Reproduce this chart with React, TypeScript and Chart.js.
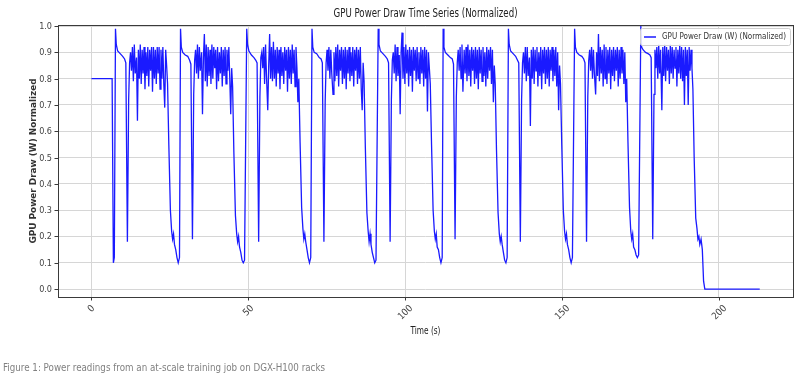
import React, { useEffect, useRef } from "react";
import { Chart, registerables } from "chart.js";

Chart.register(...registerables);

const TITLE = "GPU Power Draw Time Series (Normalized)";
const X_TITLE = "Time (s)";
const Y_TITLE = "GPU Power Draw (W) Normalized";
const SERIES_LABEL = "GPU Power Draw (W) (Normalized)";
const CAPTION = "Figure 1: Power readings from an at-scale training job on DGX-H100 racks";

const xTicks = [0, 50, 100, 150, 200];
const xTickLabels = ["0", "50", "100", "150", "200"];
const yTicks = [0, 0.1, 0.2, 0.3, 0.4, 0.5, 0.6, 0.7, 0.8, 0.9, 1.0];
const yTickLabels = ["0.0", "0.1", "0.2", "0.3", "0.4", "0.5", "0.6", "0.7", "0.8", "0.9", "1.0"];

// idle lead-in before the first training step
const leadInTimes = [0, 6.6, 7.0, 7.3];
const leadInValues = [0.8, 0.8, 0.1, 0.12];

// time (s) at which each burst starts (spike)
const cycleStarts = [7.67, 28.4, 49.5, 70.3, 91.4, 112.1, 132.9, 154.0, 175.1];

// sample instants within a burst, seconds after its start
const cycleOffsets = [
  0, 0.25, 0.7, 1.5, 2.3, 2.9, 3.3, 3.8, 4.2, 4.5,
  4.8, 5.1, 5.4, 5.7, 6.0, 6.3, 6.7, 7.0, 7.3, 7.6,
  7.9, 8.2, 8.5, 8.8, 9.1, 9.4, 9.7, 10.0, 10.3, 10.6,
  10.9, 11.2, 11.5, 11.8, 12.1, 12.4, 12.7, 13.0, 13.3, 13.6,
  13.9, 14.2, 14.5, 14.8, 15.1, 15.4, 15.7, 16.0, 16.3, 16.6,
  17.0, 17.5, 17.9, 18.2, 18.5, 18.8, 19.2, 19.6, 20.0, 20.4,
];

const cycle1 = [
  0.99, 0.93, 0.905, 0.895, 0.885, 0.875, 0.86, 0.18, 0.72, 0.86,
  0.90, 0.83, 0.92, 0.79, 0.93, 0.82, 0.88, 0.64, 0.91, 0.80,
  0.93, 0.78, 0.91, 0.82, 0.92, 0.76, 0.90, 0.81, 0.92, 0.77,
  0.91, 0.83, 0.92, 0.75, 0.92, 0.80, 0.91, 0.78, 0.92, 0.82,
  0.92, 0.76, 0.91, 0.80, 0.92, 0.78, 0.69, 0.91, 0.85, 0.78,
  0.55, 0.30, 0.22, 0.19, 0.21, 0.17, 0.15, 0.12, 0.10, 0.12,
];
const cycle2 = [
  0.99, 0.92, 0.90, 0.89, 0.885, 0.87, 0.855, 0.19, 0.74, 0.87,
  0.91, 0.82, 0.93, 0.80, 0.92, 0.83, 0.90, 0.665, 0.88, 0.97,
  0.79, 0.93, 0.77, 0.92, 0.81, 0.91, 0.78, 0.93, 0.80, 0.92,
  0.84, 0.91, 0.76, 0.92, 0.79, 0.90, 0.82, 0.92, 0.77, 0.91,
  0.81, 0.92, 0.78, 0.91, 0.83, 0.92, 0.80, 0.665, 0.84, 0.77,
  0.52, 0.28, 0.21, 0.18, 0.20, 0.16, 0.14, 0.11, 0.10, 0.11,
];
const cycle3 = [
  0.99, 0.93, 0.905, 0.89, 0.88, 0.87, 0.86, 0.18, 0.73, 0.88,
  0.90, 0.84, 0.92, 0.78, 0.93, 0.81, 0.68, 0.85, 0.97, 0.80,
  0.92, 0.79, 0.94, 0.80, 0.91, 0.77, 0.92, 0.82, 0.91, 0.76,
  0.92, 0.81, 0.90, 0.78, 0.92, 0.83, 0.91, 0.75, 0.92, 0.80,
  0.91, 0.78, 0.93, 0.82, 0.91, 0.77, 0.92, 0.84, 0.71, 0.80,
  0.56, 0.31, 0.23, 0.19, 0.21, 0.18, 0.15, 0.12, 0.10, 0.12,
];
const cycle4 = [
  0.99, 0.92, 0.90, 0.895, 0.88, 0.875, 0.86, 0.18, 0.71, 0.86,
  0.91, 0.83, 0.92, 0.80, 0.91, 0.82, 0.74, 0.90, 0.79, 0.92,
  0.81, 0.93, 0.77, 0.91, 0.83, 0.92, 0.78, 0.91, 0.80, 0.92,
  0.76, 0.91, 0.82, 0.92, 0.79, 0.90, 0.81, 0.92, 0.77, 0.91,
  0.83, 0.92, 0.78, 0.91, 0.80, 0.92, 0.76, 0.68, 0.86, 0.79,
  0.54, 0.29, 0.22, 0.18, 0.21, 0.17, 0.14, 0.12, 0.10, 0.11,
];
const cycle5 = [
  0.99, 0.93, 0.905, 0.895, 0.885, 0.875, 0.86, 0.18, 0.72, 0.87,
  0.90, 0.82, 0.93, 0.79, 0.92, 0.81, 0.89, 0.665, 0.90, 0.975,
  0.80, 0.92, 0.78, 0.93, 0.82, 0.91, 0.77, 0.92, 0.81, 0.91,
  0.75, 0.92, 0.83, 0.91, 0.79, 0.92, 0.80, 0.90, 0.78, 0.92,
  0.82, 0.91, 0.77, 0.92, 0.80, 0.91, 0.675, 0.90, 0.84, 0.78,
  0.55, 0.30, 0.22, 0.19, 0.21, 0.16, 0.15, 0.12, 0.10, 0.12,
];
const cycle6 = [
  0.99, 0.92, 0.90, 0.89, 0.88, 0.875, 0.855, 0.19, 0.73, 0.86,
  0.91, 0.83, 0.92, 0.80, 0.93, 0.75, 0.91, 0.82, 0.92, 0.79,
  0.93, 0.81, 0.91, 0.77, 0.92, 0.83, 0.91, 0.78, 0.92, 0.80,
  0.91, 0.76, 0.92, 0.82, 0.91, 0.79, 0.92, 0.81, 0.90, 0.77,
  0.92, 0.80, 0.91, 0.83, 0.92, 0.78, 0.91, 0.71, 0.85, 0.78,
  0.53, 0.29, 0.21, 0.18, 0.20, 0.17, 0.14, 0.11, 0.10, 0.12,
];
const cycle7 = [
  0.99, 0.93, 0.905, 0.895, 0.885, 0.87, 0.86, 0.18, 0.72, 0.86,
  0.90, 0.82, 0.92, 0.79, 0.92, 0.81, 0.88, 0.62, 0.91, 0.80,
  0.92, 0.78, 0.91, 0.83, 0.92, 0.77, 0.90, 0.81, 0.92, 0.76,
  0.91, 0.82, 0.92, 0.78, 0.91, 0.80, 0.92, 0.77, 0.91, 0.83,
  0.92, 0.79, 0.91, 0.81, 0.92, 0.77, 0.90, 0.68, 0.85, 0.78,
  0.55, 0.30, 0.22, 0.19, 0.21, 0.17, 0.15, 0.12, 0.10, 0.12,
];
const cycle8 = [
  0.99, 0.92, 0.90, 0.89, 0.885, 0.875, 0.86, 0.18, 0.73, 0.87,
  0.91, 0.83, 0.92, 0.80, 0.91, 0.82, 0.74, 0.90, 0.81, 0.97,
  0.79, 0.92, 0.82, 0.91, 0.77, 0.93, 0.80, 0.92, 0.78, 0.91,
  0.82, 0.92, 0.76, 0.91, 0.81, 0.92, 0.79, 0.91, 0.83, 0.92,
  0.77, 0.91, 0.80, 0.92, 0.82, 0.91, 0.78, 0.90, 0.71, 0.80,
  0.56, 0.31, 0.22, 0.19, 0.21, 0.16, 0.15, 0.13, 0.12, 0.13,
];
const cycle9 = [
  1.0, 0.92, 0.91, 0.90, 0.895, 0.89, 0.88, 0.19, 0.74, 0.91,
  0.84, 0.92, 0.80, 0.93, 0.82, 0.91, 0.68, 0.92, 0.81, 0.93,
  0.79, 0.92, 0.83, 0.91, 0.78, 0.93, 0.82, 0.92, 0.80, 0.91,
  0.84, 0.92, 0.77, 0.91, 0.82, 0.93, 0.80, 0.92, 0.79, 0.91,
  0.70, 0.92, 0.81, 0.91, 0.70, 0.92, 0.83, 0.91, 0.84, 0.76,
  0.50, 0.27, 0.23, 0.19, 0.20, 0.17, 0.19, 0.15, 0.03, 0.0,
];
const cycleValues = [cycle1, cycle2, cycle3, cycle4, cycle5, cycle6, cycle7, cycle8, cycle9];

// idle after the job ends
const tailTimes = [213];
const tailValues = [0];

const X_MIN = -10.65;
const X_MAX = 223.6;
const Y_MIN = -0.03;
const Y_MAX = 1.004;

const FONT = '"Liberation Sans Narrow", "DejaVu Sans Condensed", "Liberation Sans", Arial, sans-serif';

function buildPoints() {
  const pts: { x: number; y: number }[] = [];
  leadInTimes.forEach((t, i) => pts.push({ x: t, y: leadInValues[i] }));
  cycleStarts.forEach((s, c) => {
    const vals = cycleValues[c];
    for (let i = 0; i < Math.min(vals.length, cycleOffsets.length); i++) {
      pts.push({ x: +(s + cycleOffsets[i]).toFixed(3), y: vals[i] });
    }
  });
  tailTimes.forEach((t, i) => pts.push({ x: t, y: tailValues[i] }));
  return pts;
}

function fitText(
  ctx: CanvasRenderingContext2D,
  text: string,
  x: number,
  y: number,
  target: number,
  rotate = 0
) {
  const w = ctx.measureText(text).width;
  const s = w > 0 ? target / w : 1;
  ctx.save();
  ctx.translate(x, y);
  if (rotate) ctx.rotate(rotate);
  ctx.scale(s, 1);
  ctx.fillText(text, 0, 0);
  ctx.restore();
}

const decorPlugin = {
  id: "decor",
  afterDraw(chart: any) {
    const ctx: CanvasRenderingContext2D = chart.ctx;
    const { left, right, top, bottom } = chart.chartArea;
    const xs = chart.scales.x;
    const ys = chart.scales.y;
    ctx.save();

    // spines
    ctx.strokeStyle = "#3a3a3a";
    ctx.lineWidth = 1;
    ctx.strokeRect(Math.round(left) + 0.5, Math.round(top) + 0.5, Math.round(right - left), Math.round(bottom - top));

    // tick marks + labels
    ctx.fillStyle = "#444";
    ctx.font = `9px ${FONT}`;
    ctx.textAlign = "right";
    ctx.textBaseline = "middle";
    yTicks.forEach((v, i) => {
      const py = Math.round(ys.getPixelForValue(v)) + 0.5;
      ctx.beginPath();
      ctx.moveTo(left, py);
      ctx.lineTo(left - 3.5, py);
      ctx.stroke();
      ctx.fillText(yTickLabels[i], left - 6, py);
    });

    ctx.textAlign = "center";
    ctx.font = `9.5px ${FONT}`;
    xTicks.forEach((v, i) => {
      const px = Math.round(xs.getPixelForValue(v)) + 0.5;
      ctx.beginPath();
      ctx.moveTo(px, bottom);
      ctx.lineTo(px, bottom + 3.5);
      ctx.stroke();
      const lbl = xTickLabels[i];
      const w = ctx.measureText(lbl).width;
      const bboxH = (w + 8) * Math.SQRT1_2;
      ctx.save();
      ctx.translate(px, bottom + 7 + bboxH / 2);
      ctx.rotate(-Math.PI / 4);
      ctx.fillText(lbl, 0, 0);
      ctx.restore();
    });

    // title
    ctx.fillStyle = "#222";
    ctx.textAlign = "center";
    ctx.textBaseline = "middle";
    ctx.font = `11.5px ${FONT}`;
    fitText(ctx, TITLE, (left + right) / 2, 14, 184);

    // x title
    ctx.font = `10px ${FONT}`;
    fitText(ctx, X_TITLE, (left + right) / 2, 331, 30);

    // y title
    ctx.font = `bold 9.5px ${FONT}`;
    ctx.fillStyle = "#333";
    fitText(ctx, Y_TITLE, 34, (top + bottom) / 2, 165, -Math.PI / 2);

    // legend
    const lx = 640.5, ly = 28.5, lw = 150, lh = 17;
    ctx.fillStyle = "rgba(255,255,255,0.85)";
    ctx.strokeStyle = "#d0d0d0";
    ctx.beginPath();
    ctx.roundRect(lx, ly, lw, lh, 2);
    ctx.fill();
    ctx.stroke();
    ctx.strokeStyle = "#1a1aff";
    ctx.lineWidth = 1.5;
    ctx.beginPath();
    ctx.moveTo(644, 37);
    ctx.lineTo(656, 37);
    ctx.stroke();
    ctx.fillStyle = "#333";
    ctx.textAlign = "left";
    ctx.font = `9px ${FONT}`;
    fitText(ctx, SERIES_LABEL, 662, 37, 124);

    ctx.restore();
  },
};

export default function App() {
  const canvasRef = useRef<HTMLCanvasElement | null>(null);
  const capRef = useRef<HTMLSpanElement | null>(null);

  useEffect(() => {
    if (capRef.current) {
      const w = capRef.current.getBoundingClientRect().width;
      if (w > 0) capRef.current.style.transform = `scaleX(${322 / w})`;
    }
    const canvas = canvasRef.current;
    if (!canvas) return;
    const chart = new Chart(canvas, {
      type: "line",
      data: {
        datasets: [
          {
            label: SERIES_LABEL,
            data: buildPoints(),
            borderColor: "#1a1aff",
            borderWidth: 1.3,
            pointRadius: 0,
            tension: 0,
            fill: false,
          },
        ],
      },
      options: {
        animation: false,
        responsive: false,
        devicePixelRatio: 1,
        parsing: true,
        layout: { padding: { left: 58, right: 14, top: 25, bottom: 85 } },
        plugins: {
          legend: { display: false },
          title: { display: false },
          tooltip: { enabled: false },
        },
        scales: {
          x: {
            type: "linear",
            min: X_MIN,
            max: X_MAX,
            afterBuildTicks: (scale: any) => {
              scale.ticks = xTicks.map((v) => ({ value: v }));
            },
            ticks: { display: false },
            grid: { color: "#d6d6d6", lineWidth: 1, drawTicks: false },
            border: { display: false },
          },
          y: {
            type: "linear",
            min: Y_MIN,
            max: Y_MAX,
            afterBuildTicks: (scale: any) => {
              scale.ticks = yTicks.map((v) => ({ value: v }));
            },
            ticks: { display: false },
            grid: { color: "#d6d6d6", lineWidth: 1, drawTicks: false },
            border: { display: false },
          },
        },
      },
      plugins: [decorPlugin],
    });
    return () => chart.destroy();
  }, []);

  return (
    <div style={{ position: "fixed", left: 0, top: 0, width: 807, height: 382, background: "#fff", overflow: "hidden" }}>
      <canvas ref={canvasRef} width={807} height={382} style={{ width: 807, height: 382, display: "block" }} />
      <span
        ref={capRef}
        style={{
          position: "absolute",
          left: 3,
          top: 362,
          fontFamily: FONT,
          fontSize: 10,
          lineHeight: "12px",
          color: "#808080",
          whiteSpace: "nowrap",
          transformOrigin: "left center",
          display: "inline-block",
        }}
      >
        {CAPTION}
      </span>
    </div>
  );
}
